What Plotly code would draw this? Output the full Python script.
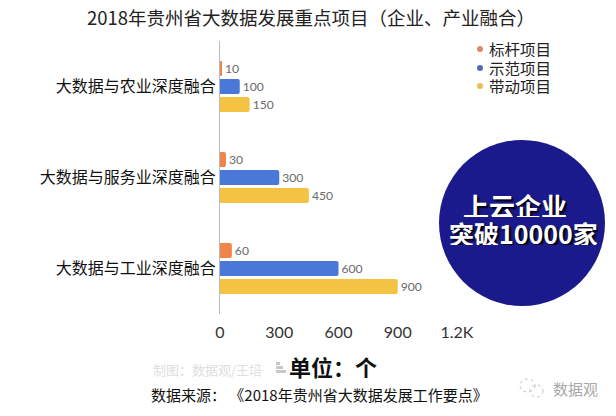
import plotly.graph_objects as go

W, H = 616, 416
L, R, T, B = 220, 457, 41, 314

categories = ["大数据与农业深度融合", "大数据与服务业深度融合", "大数据与工业深度融合"]
series_names = ["标杆项目", "示范项目", "带动项目"]
benchmark = [10, 30, 60]
demo = [100, 300, 600]
driven = [150, 450, 900]
tick_vals = [0, 300, 600, 900, 1200]
tick_text = ["0", "300", "600", "900", "1.2K"]
bar_colors = ["#EF854A", "#4A78D8", "#F5C344"]
legend_colors = ["#E0896B", "#4F6DB8", "#E9C04F"]
legend_rows = [49, 68, 86]

CJK = "Noto Sans CJK SC"


def px(x):
    return (x - L) / (R - L)


def py(y):
    return (B - y) / (B - T)


def dot(x0, x1, y0, y1, **kw):
    return dict(type="circle", xref="paper", yref="paper", x0=px(x0), x1=px(x1), y0=py(y1), y1=py(y0), **kw)


def block(x0, x1, y0, y1):
    return dict(type="rect", xref="paper", yref="paper", x0=px(x0), x1=px(x1), y0=py(y1), y1=py(y0),
                fillcolor="#c8c8c8", line_width=0)


fig = go.Figure()
for name, vals, col in zip(series_names, [benchmark, demo, driven], bar_colors):
    fig.add_trace(go.Bar(y=categories, x=vals, orientation="h", name=name, showlegend=False,
                         marker=dict(color=col, line_width=0), text=vals, textposition="outside",
                         textfont=dict(family="Lato", size=13, color="#6a6a6a"), cliponaxis=False))

shapes = [
    dot(439, 605, 140, 306, fillcolor="#1B1A8C", line_width=0, layer="below"),
    # wechat mark
    dot(520, 535, 379, 392, line=dict(color="#c4c4c4", width=1, dash="dot")),
    dot(530, 543, 385, 397, line=dict(color="#c4c4c4", width=1, dash="dot")),
    block(276, 280, 362, 365),
    block(276, 283, 366, 369),
    block(276, 286, 370, 373),
]
for col, row in zip(legend_colors, legend_rows):
    shapes.append(dot(477, 483, row - 3, row + 3, fillcolor=col, line_width=0))


def note(text, x, y, size, color="#111", anchor="center", height=None, **font_kw):
    fig.add_annotation(text=text, xref="paper", yref="paper", x=px(x), y=py(y), showarrow=False,
                       xanchor=anchor, yanchor="middle", height=height, borderpad=0,
                       font=dict(family=CJK, size=size, color=color, **font_kw))


for name, row in zip(series_names, legend_rows):
    note(name, 488, row, 15.5, "#222", "left", height=16)
note("上云企业", 515, 205, 26, "white", height=24, weight="bold", shadow="2px 2px 2px #000")
note("突破10000家", 523, 233, 25, "white", height=24, weight="bold", shadow="2px 2px 2px #000")
note("制图：数据观/王培", 152, 369, 13, "#dedede", "left")
note("单位：个", 288, 366, 22, "#111", "left", weight="bold")
note("数据来源： 《2018年贵州省大数据发展工作要点》", 150, 394, 15, "#111", "left")
note("数据观", 552, 388, 15, "#a8a8a8", "left")

fig.update_layout(
    width=W, height=H, margin=dict(l=L, r=W - R, t=T, b=H - B),
    paper_bgcolor="white", plot_bgcolor="white",
    title=dict(text="2018年贵州省大数据发展重点项目（企业、产业融合）", x=311 / W, xanchor="center",
               y=1 - 19 / H, yanchor="middle", font=dict(family=CJK, size=18.5, color="#222")),
    barmode="group", bargap=0.407, bargroupgap=0.167,
    barcornerradius=2,
    shapes=shapes,
    showlegend=False,
    xaxis=dict(range=[0, 1200], tickvals=tick_vals, ticktext=tick_text, showgrid=False, zeroline=False,
               showline=False, ticks="", ticklabelstandoff=7, tickfont=dict(family="Lato", size=16, color="#333")),
    yaxis=dict(autorange="reversed", categoryorder="array", categoryarray=categories, showline=True, linecolor="#bbbbbb",
               linewidth=1, showgrid=False, ticks="", ticklabelstandoff=0, tickfont=dict(family=CJK, size=16, color="#111")),
)

# page default margin would push the chart 8px off
fig.write_html("out.html", config=dict(displayModeBar=False), post_script="document.body.style.margin='0';")
